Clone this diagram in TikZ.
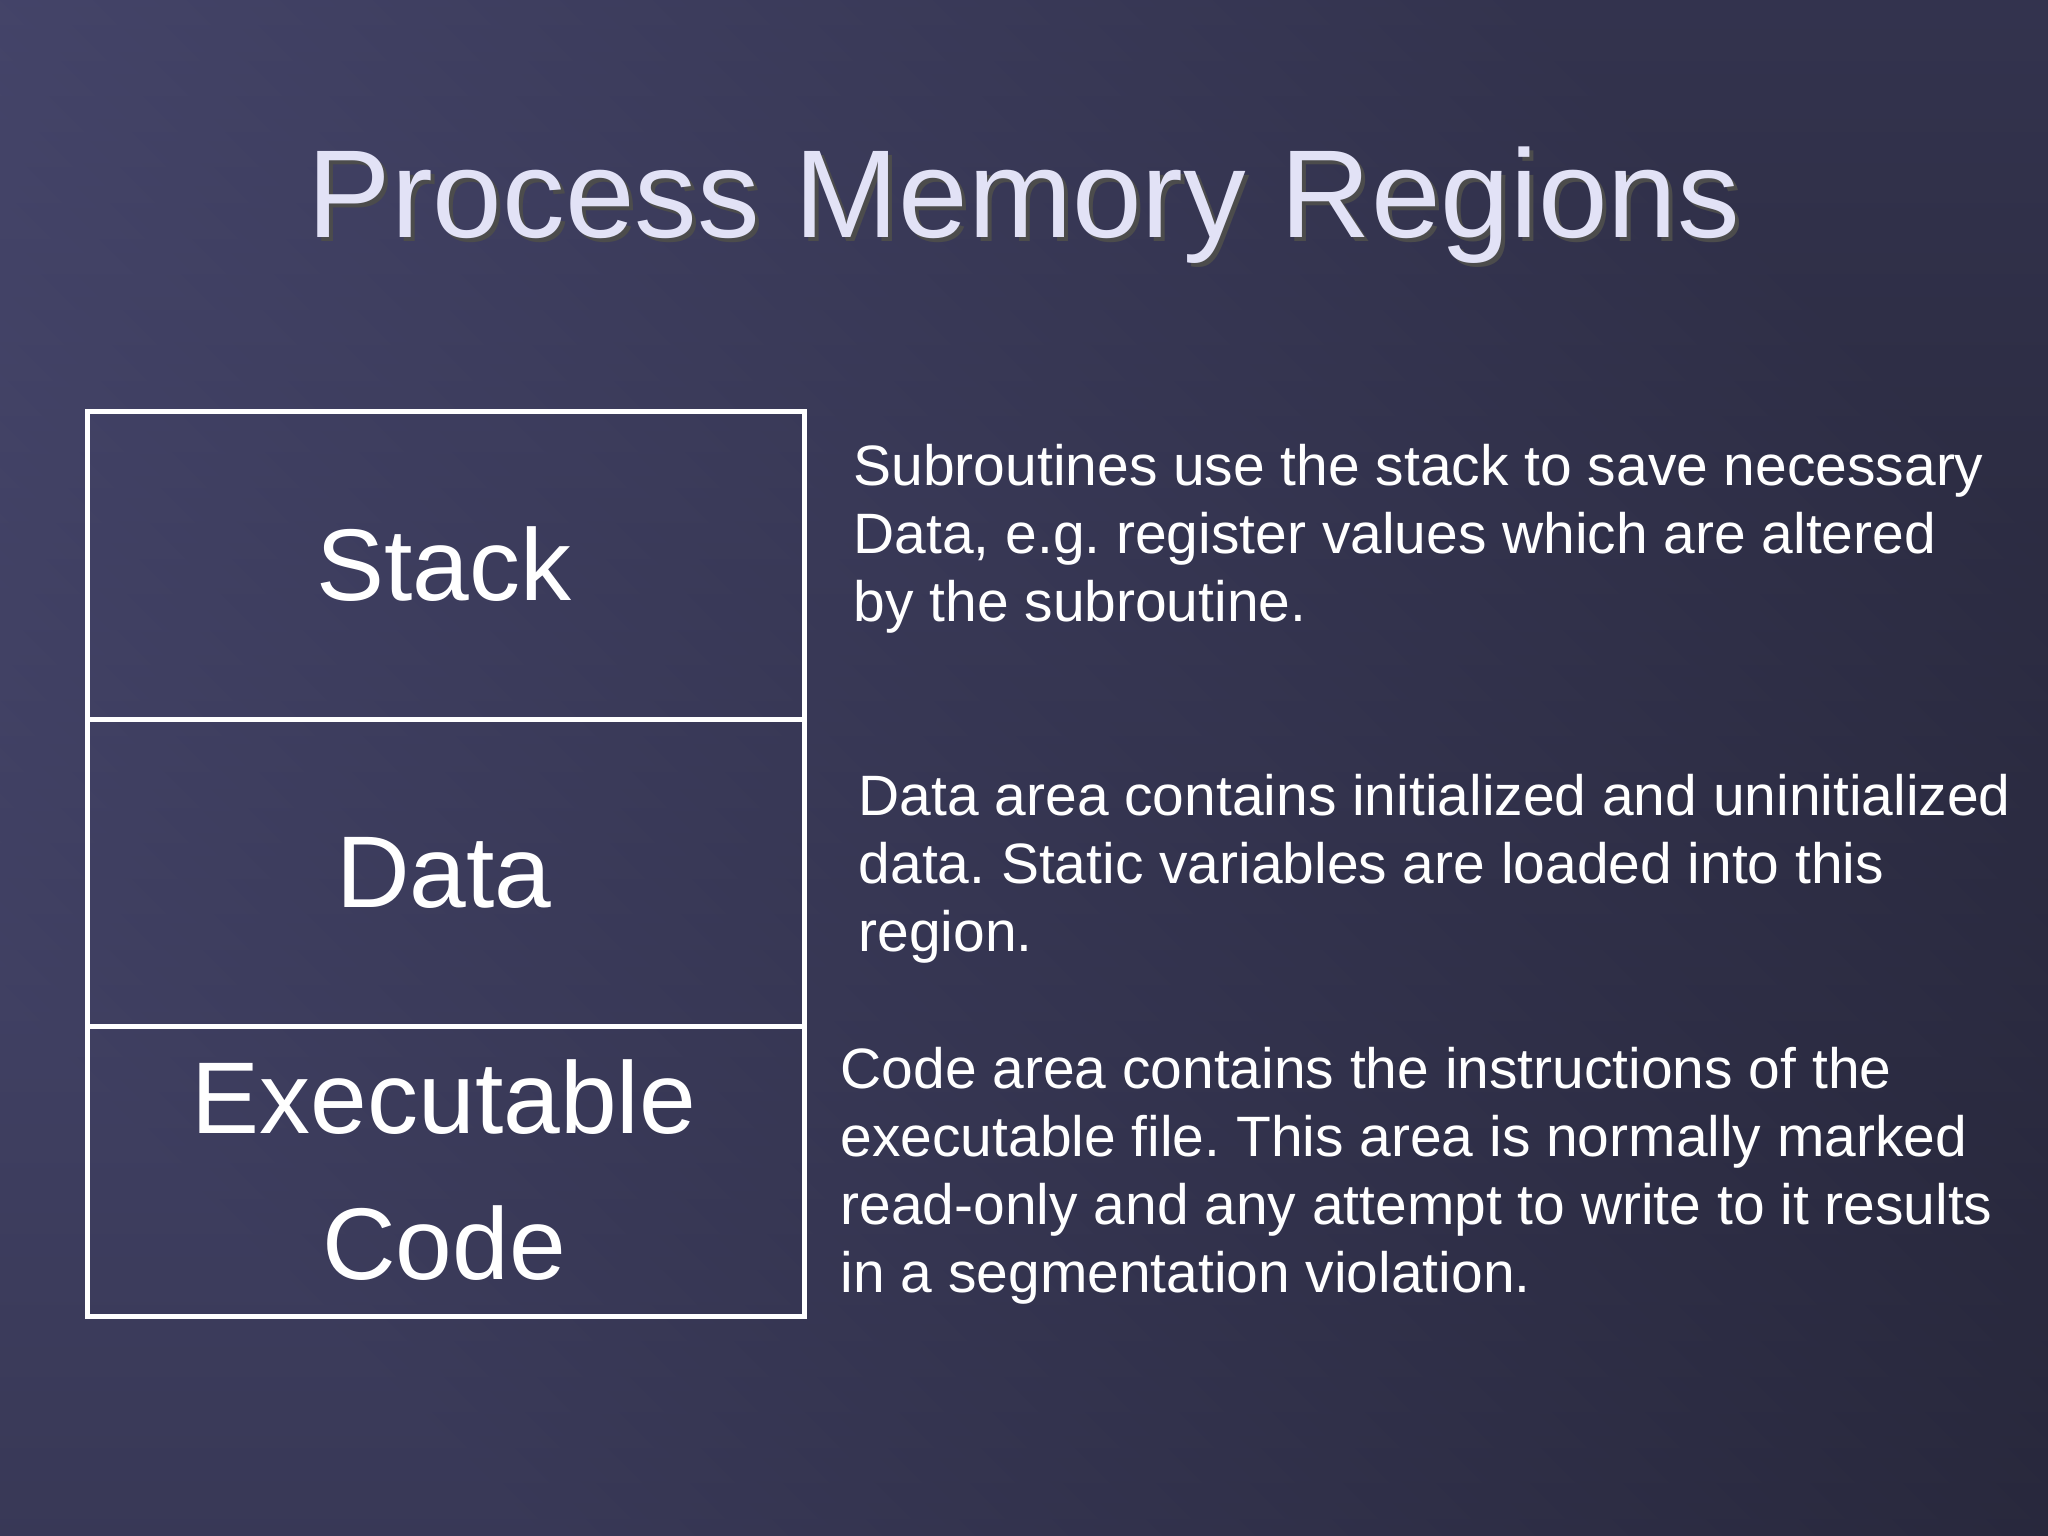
\documentclass[tikz,border=0pt]{standalone}
\usepackage{fontspec}
\setmainfont{Liberation Sans}
\frenchspacing
\begin{document}
\begin{tikzpicture}
\definecolor{bgA}{HTML}{545482}
\definecolor{bgB}{HTML}{1E1E2C}
\definecolor{titlec}{HTML}{E2E2F6}
\tikzset{
  region/.style={draw=white,line width=1.3pt},
  lbl/.style={text=white,font=\fontsize{29}{35}\selectfont,anchor=base,inner sep=0pt},
  body/.style={text=white,font=\fontsize{16.2}{19}\selectfont,anchor=base west,inner sep=0pt},
}
\shade[left color=bgA,right color=bgB,shading angle=135] (0,0) rectangle (20.48,15.36);
\shade[top color=bgA!80!bgB,bottom color=bgB,opacity=0.5] (0,0) rectangle (20.48,15.36);
\useasboundingbox (0,0) rectangle (20.48,15.36);
% title
\node[text=black!70,font=\fontsize{35.6}{42}\selectfont,anchor=base,inner sep=0pt] at (10.28,12.94) {Process Memory Regions};
\node (title)[text=titlec,font=\fontsize{35.6}{42}\selectfont,anchor=base,inner sep=0pt] at (10.24,12.98) {Process Memory Regions};
% boxes
\node (stackbox)[region,minimum width=7.17cm,minimum height=3.08cm,anchor=north west,inner sep=0pt] at (0.85,11.27) {};
\node (databox)[region,minimum width=7.17cm,minimum height=3.07cm,anchor=north west,inner sep=0pt] at (0.85,8.19) {};
\node (codebox)[region,minimum width=7.17cm,minimum height=2.90cm,anchor=north west,inner sep=0pt] at (0.85,5.12) {};
\node (ls)[lbl] at (4.44,9.35) {Stack};
\node (ld)[lbl] at (4.44,6.28) {Data};
\node (le1)[lbl] at (4.44,4.02) {Executable};
\node (le2)[lbl] at (4.44,2.56) {Code};
% descriptions
\node (s1)[body] at (8.53,10.50) {Subroutines use the stack to save necessary};
\node (s2)[body] at (8.53,9.82) {Data, e.g. register values which are altered};
\node (s3)[body] at (8.53,9.14) {by the subroutine.};
\node (d1)[body] at (8.58,7.20) {Data area contains initialized and uninitialized};
\node (d2)[body] at (8.58,6.52) {data. Static variables are loaded into this};
\node (d3)[body] at (8.58,5.84) {region.};
\node (c1)[body] at (8.40,4.47) {Code area contains the instructions of the};
\node (c2)[body] at (8.40,3.79) {executable file. This area is normally marked};
\node (c3)[body] at (8.40,3.11) {read-only and any attempt to write to it results};
\node (c4)[body] at (8.40,2.43) {in a segmentation violation.};
\end{tikzpicture}
\end{document}
